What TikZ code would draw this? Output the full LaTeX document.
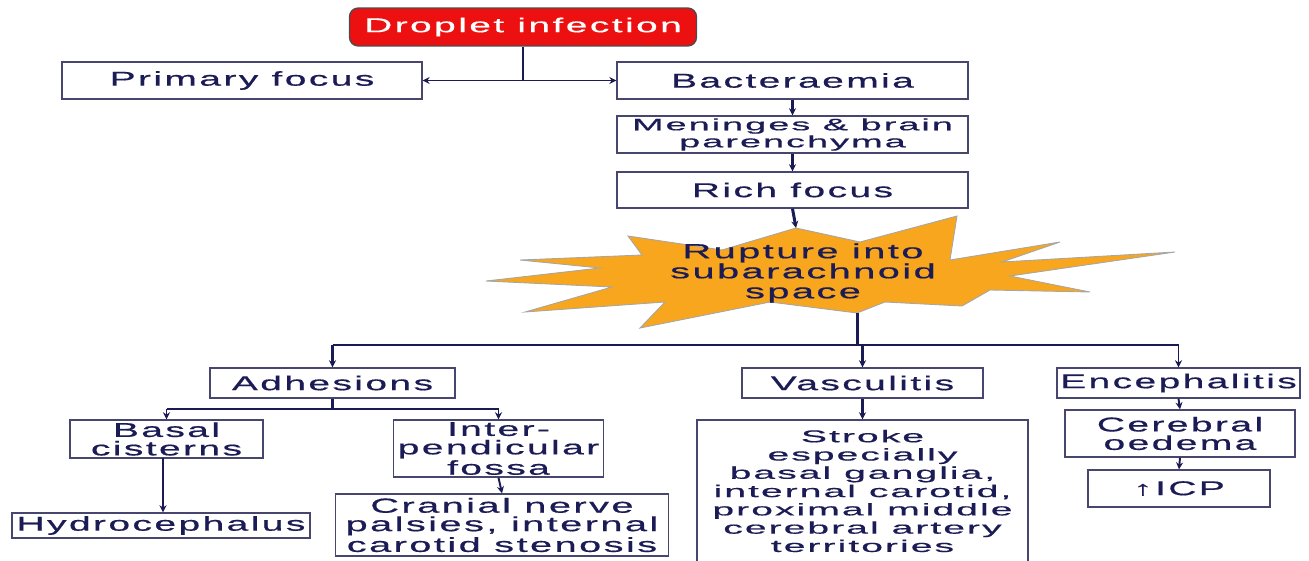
\documentclass[tikz,border=0pt]{standalone}
\usepackage{fontspec}
\setmainfont{Liberation Sans}[FakeStretch=1.95, LetterSpace=12, FakeBold=0.6]
\newfontfamily\wfont{Liberation Sans}[FakeStretch=2.3, LetterSpace=12, FakeBold=0.6]
\usetikzlibrary{arrows.meta}
\definecolor{txt}{RGB}{27,27,85}
\definecolor{linec}{RGB}{26,26,85}
\definecolor{boxc}{RGB}{70,70,110}
\definecolor{starfill}{RGB}{247,166,30}
\definecolor{dropred}{RGB}{236,16,16}
\newcommand\fsn{\fontsize{11.38pt}{10.5pt}\selectfont}
\newcommand\fsm{\wfont\fontsize{9.39pt}{9.67pt}\selectfont}
\newcommand\fss{\wfont\fontsize{9.67pt}{10.41pt}\selectfont}
\newcommand\fst{\fontsize{11.6pt}{11.4pt}\selectfont}
\tikzset{
  box/.style={draw=boxc, line width=0.8pt, fill=white, inner sep=0pt, text=txt, align=center, font=\fsn},
  conn/.style={draw=linec, line width=1.7pt},
  hconn/.style={draw=linec, line width=1.1pt},
  arr/.style={-{Stealth[length=4pt,width=4pt]}},
  starshape/.style={draw=gray!70, line width=0.5pt, fill=starfill},
}
\begin{document}
\begin{tikzpicture}[x=0.02cm,y=-0.02cm]
\useasboundingbox (0,0) rectangle (1309,561);

% star
\draw[starshape] (796,228) -- (860,242) -- (957,216) -- (950,260) -- (1060,242) -- (1002,262)
  -- (1175,252) -- (1010,276) -- (1090,292) -- (990,290) -- (962,306) -- (885,302)
  -- (857,313) -- (770,302) -- (640,328) -- (665,302) -- (525,312) -- (612,287)
  -- (486,281) -- (600,268) -- (520,260) -- (642,255) -- (628,236) -- (722,250) -- cycle;
\coordinate (stop) at (796,228);
\coordinate (sbot) at (857,313);
\node[text=txt, align=center, font=\fst] (rupt) at (803,273) {Rupture into\\subarachnoid\\space};

% boxes
\node[box, draw=gray!60!black, fill=dropred, text=white, rounded corners=5pt,
      minimum width=6.94cm, minimum height=0.76cm] (drop) at (523,27) {Droplet infection};
\node[box, minimum width=7.2cm, minimum height=0.74cm] (prim) at (242,80.5) {Primary focus};
\node[box, minimum width=7.02cm, minimum height=0.74cm] (bact) at (792.5,80.5) {Bacteraemia};
\node[box, font=\fsm, minimum width=7.02cm, minimum height=0.74cm] (men) at (792.5,134.5) {Meninges \& brain\\parenchyma};
\node[box, minimum width=7.02cm, minimum height=0.72cm] (rich) at (792.5,190) {Rich focus};

\node[box, minimum width=4.9cm, minimum height=0.6cm] (adh) at (332.5,383) {Adhesions};
\node[box, minimum width=4.82cm, minimum height=0.6cm] (vas) at (862.5,383) {Vasculitis};
\node[box, minimum width=4.86cm, minimum height=0.6cm] (enc) at (1178.5,383) {Encephalitis};

\node[box, minimum width=3.86cm, minimum height=0.76cm] (basal) at (166.5,439) {Basal\\cisterns};
\node[box, minimum width=4.2cm, minimum height=1.14cm] (inter) at (498.5,448.5) {Inter-\\pendicular\\fossa};
\node[box, minimum width=5.96cm, minimum height=0.5cm] (hydro) at (161,525.5) {Hydrocephalus};
\node[box, font=\fontsize{11.6pt}{10.5pt}\selectfont, minimum width=6.66cm, minimum height=1.24cm] (cran) at (502,525) {Cranial nerve\\palsies, internal\\carotid stenosis};
\node[box, font=\fss, minimum width=6.62cm, minimum height=2.84cm] (stroke) at (862.5,491) {Stroke\\especially\\basal ganglia,\\internal carotid,\\proximal middle\\cerebral artery\\territories};
\node[box, minimum width=4.6cm, minimum height=0.94cm] (cere) at (1180,433.5) {Cerebral\\oedema};
\node[box, minimum width=3.64cm, minimum height=0.74cm] (icp) at (1179,488.5) {↑ICP};

% connectors top
\coordinate (j1) at (drop.south |- prim.east);
\draw[conn] (drop.south) -- (j1);
\draw[hconn, arr] (j1) -- (prim.east);
\draw[hconn, arr] (j1) -- (bact.west);
\draw[conn, arr] (bact.south) -- (men.north);
\draw[conn, arr] (men.south) -- (rich.north);
\draw[conn, arr] (rich.south) -- (stop);

% star to level 2
\coordinate (j2) at (857,345);
\coordinate (j2l) at (adh.north |- j2);
\coordinate (j2r) at (enc.north |- j2);
\coordinate (j2v) at (vas.north |- j2);
\draw[conn] (sbot) -- (j2);
\draw[hconn] (j2l) -- (j2r);
\draw[conn, arr] (j2l) -- (adh.north);
\draw[conn, arr] (j2v) -- (vas.north);
\draw[hconn, arr] (j2r) -- (enc.north);

% adhesions branch
\coordinate (j3) at (332.5,409);
\coordinate (j3l) at (basal.north |- j3);
\coordinate (j3r) at (inter.north |- j3);
\draw[conn] (adh.south) -- (j3);
\draw[hconn] (j3l) -- (j3r);
\draw[hconn, arr] (j3l) -- (basal.north);
\draw[hconn, arr] (j3r) -- (inter.north);
\coordinate (bs) at (163,458);
\draw[conn, arr] (bs) -- (bs |- hydro.north);
\draw[hconn, arr] (inter.south) -- (cran.north);

% vasculitis / encephalitis
\draw[conn, arr] (vas.south) -- (stroke.north);
\draw[hconn, arr] (enc.south) -- (cere.north);
\draw[hconn, arr] (cere.south) -- (icp.north);
\end{tikzpicture}
\end{document}
